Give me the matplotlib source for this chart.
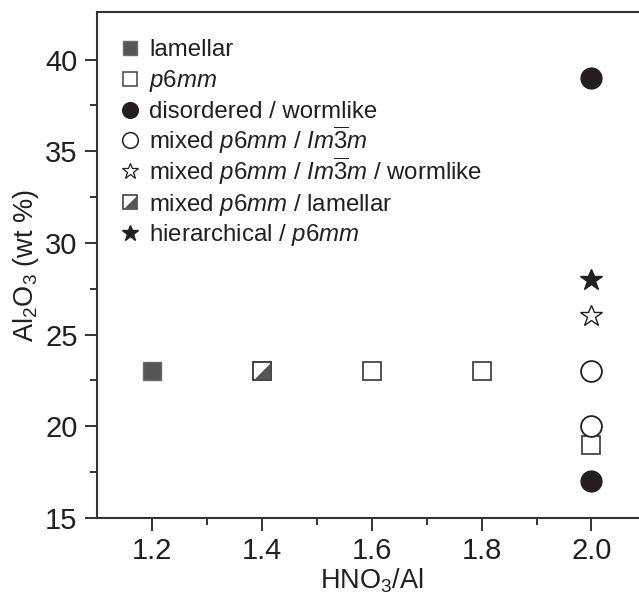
import matplotlib
matplotlib.use("Agg")
import matplotlib.pyplot as plt
from matplotlib.path import Path
from matplotlib.ticker import FixedLocator

plt.rcParams['font.family'] = ['Liberation Sans', 'DejaVu Sans']
plt.rcParams['mathtext.fontset'] = 'custom'
plt.rcParams['mathtext.rm'] = 'Liberation Sans'
plt.rcParams['mathtext.it'] = 'Liberation Sans:italic'
plt.rcParams['mathtext.bf'] = 'Liberation Sans:bold'

# ---- data ----
lamellar_x = [1.2]
lamellar_y = [23]
p6mm_x = [1.6, 1.8, 2.0]
p6mm_y = [23, 23, 19]
disordered_x = [2.0, 2.0]
disordered_y = [39, 17]
mixed_im3m_x = [2.0, 2.0]
mixed_im3m_y = [23, 20]
mixed_worm_x = [2.0]
mixed_worm_y = [26]
mixed_lam_x = [1.4]
mixed_lam_y = [23]
hier_x = [2.0]
hier_y = [28]

labels = [
    'lamellar',
    r'$\mathit{p}$6$\mathit{mm}$',
    'disordered / wormlike',
    r'mixed $\mathit{p}$6$\mathit{mm}$ / $\mathit{Im}\overline{3}\mathit{m}$',
    r'mixed $\mathit{p}$6$\mathit{mm}$ / $\mathit{Im}\overline{3}\mathit{m}$ / wormlike',
    r'mixed $\mathit{p}$6$\mathit{mm}$ / lamellar',
    r'hierarchical / $\mathit{p}$6$\mathit{mm}$',
]
xticks = [1.2, 1.4, 1.6, 1.8, 2.0]
yticks = [15, 20, 25, 30, 35, 40]

DARK = '#555555'
INK = '#231f20'
tri = Path([(1, -1), (1, 1), (-1, -1), (1, -1)],
           [Path.MOVETO, Path.LINETO, Path.LINETO, Path.CLOSEPOLY])

W, H = 639, 597
AX_L, AX_T, AX_B = 97, 12, 518
AX_W = 549.4  # axes width in px (right spine falls just outside the figure)
fig = plt.figure(figsize=(W/100, H/100), dpi=100)
ax = fig.add_axes([AX_L/W, 1 - AX_B/H, AX_W/W, (AX_B - AX_T)/H])

ms_sq, ms_c, ms_st = 13.3, 15, 16.5
ax.plot(lamellar_x, lamellar_y, 's', ms=ms_sq, mfc=DARK, mec='#6a6a6a', mew=1, ls='none')
ax.plot(p6mm_x, p6mm_y, 's', ms=ms_sq, mfc='white', mec='#444444', mew=1.3, ls='none')
ax.plot(disordered_x, disordered_y, 'o', ms=ms_c, mfc=INK, mec=INK, ls='none')
ax.plot(mixed_im3m_x, mixed_im3m_y, 'o', ms=ms_c, mfc='white', mec=INK, mew=1.3, ls='none')
ax.plot(mixed_worm_x, mixed_worm_y, '*', ms=ms_st, mfc='white', mec=INK, mew=1.0, ls='none')
ax.plot(mixed_lam_x, mixed_lam_y, 's', ms=ms_sq, mfc='white', mec='#333333', mew=1.3, ls='none')
ax.plot(mixed_lam_x, mixed_lam_y, marker=tri, ms=ms_sq - 1.5, mfc=DARK, mec='none', ls='none')
ax.plot(hier_x, hier_y, '*', ms=ms_st, mfc=INK, mec=INK, ls='none')

# manual legend with uniform row spacing
lm_sq, lm_c, lm_st = 10, 11.3, 12
styles = [
    [dict(marker='s', ms=lm_sq, mfc=DARK, mec='#6a6a6a', mew=1)],
    [dict(marker='s', ms=lm_sq, mfc='white', mec='#444444', mew=1.1)],
    [dict(marker='o', ms=lm_c, mfc=INK, mec=INK)],
    [dict(marker='o', ms=lm_c, mfc='white', mec=INK, mew=1.1)],
    [dict(marker='*', ms=lm_st, mfc='white', mec=INK, mew=0.9)],
    [dict(marker='s', ms=lm_sq, mfc='white', mec='#333333', mew=1.1),
     dict(marker=tri, ms=lm_sq - 1.2, mfc=DARK, mec='none')],
    [dict(marker='*', ms=lm_st, mfc=INK, mec=INK)],
]
row0, dy = 48, 30.8
mk_x, tx_x = 129.5, 149
for i, (lab, sty) in enumerate(zip(labels, styles)):
    yp = row0 + i * dy
    fy = (AX_B - yp) / (AX_B - AX_T)
    fx = (mk_x - AX_L) / AX_W
    for s in sty:
        ax.plot([fx], [fy], ls='none', transform=ax.transAxes, clip_on=False, **s)
    ax.text((tx_x - AX_L) / AX_W, (AX_B - yp - 8.5) / (AX_B - AX_T), lab,
            transform=ax.transAxes, fontsize=17.3, color=INK, va='baseline', ha='left')

ax.set_xlim(1.1, 2.1)
ax.set_ylim(15, 42.6)
ax.xaxis.set_major_locator(FixedLocator(xticks))
ax.xaxis.set_minor_locator(FixedLocator([1.3, 1.5, 1.7, 1.9]))
ax.yaxis.set_major_locator(FixedLocator(yticks))
ax.yaxis.set_minor_locator(FixedLocator([17.5, 22.5, 27.5, 32.5, 37.5]))
ax.set_xticklabels([f'{v:.1f}' for v in xticks])
ax.set_yticklabels([str(v) for v in yticks])

ax.spines['right'].set_visible(False)
for s in ['left', 'bottom', 'top']:
    ax.spines[s].set_linewidth(1.5)
    ax.spines[s].set_color('#333333')
ax.tick_params(which='major', direction='out', length=9, width=1.4, color='#333333',
               labelsize=21, labelcolor=INK, pad=5)
ax.tick_params(which='minor', direction='out', length=5, width=1.4, color='#333333')
ax.tick_params(top=False, right=False, which='both')

ax.set_xlabel(r'HNO$_3$/Al', fontsize=19.5, color=INK, labelpad=1)
ax.set_ylabel(r'Al$_2$O$_3$ (wt %)', fontsize=19.5, color=INK, labelpad=3)

fig.savefig('out.png', dpi=100)
